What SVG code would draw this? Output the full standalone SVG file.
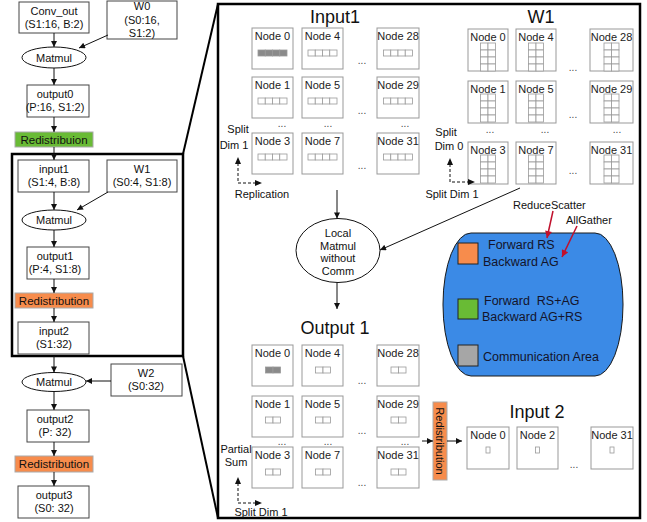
<svg xmlns="http://www.w3.org/2000/svg" xmlns:xlink="http://www.w3.org/1999/xlink" width="647" height="522" viewBox="0 0 647 522">
<style>
text{font-family:"Liberation Sans",Arial,sans-serif;fill:#111;}
.t11{font-size:11px;text-anchor:middle;}
.nl{font-size:11px;text-anchor:middle;fill:#222;}
.ttl{font-size:18px;text-anchor:middle;}
.lg{font-size:12.5px;fill:#14142a;white-space:pre;}
.box{fill:#fff;stroke:#444;stroke-width:1;}
.nbox{fill:#fff;stroke:#999;stroke-width:1;}
.cell{fill:#fff;stroke:#999;stroke-width:0.8;}
.cellf{fill:#8a8a8a;stroke:#999;stroke-width:0.8;}
.orange{fill:#f78c4c;stroke:#aaa;stroke-width:1;}
.green{fill:#69bb35;stroke:#aaa;stroke-width:1;}
.arr{stroke:#111;stroke-width:1;fill:none;marker-end:url(#ah);}
.dash{stroke:#111;stroke-width:1;fill:none;stroke-dasharray:3 2;}
.red{stroke:#c0102c;stroke-width:1.5;fill:none;marker-end:url(#rh);}
.dots{font-size:10px;text-anchor:middle;fill:#444;}
.frame{fill:none;stroke:#000;stroke-width:2.5;}
</style>
<defs>
<marker id="ah" viewBox="0 0 10 10" refX="10" refY="5" markerWidth="7" markerHeight="6" orient="auto" markerUnits="userSpaceOnUse"><path d="M0,0 L10,5 L0,10 z" fill="#111"/></marker>
<marker id="rh" viewBox="0 0 10 10" refX="10" refY="5" markerWidth="8" markerHeight="7" orient="auto" markerUnits="userSpaceOnUse"><path d="M0,0 L10,5 L0,10 z" fill="#c0102c"/></marker>
<g id="a4"><rect class="cell" x="0" y="0" width="7.25" height="6"/><rect class="cell" x="7.25" y="0" width="7.25" height="6"/><rect class="cell" x="14.5" y="0" width="7.25" height="6"/><rect class="cell" x="21.75" y="0" width="7.25" height="6"/></g>
<g id="a4f"><rect class="cellf" x="0" y="0" width="7.25" height="6"/><rect class="cellf" x="7.25" y="0" width="7.25" height="6"/><rect class="cellf" x="14.5" y="0" width="7.25" height="6"/><rect class="cellf" x="21.75" y="0" width="7.25" height="6"/></g>
<g id="g24"><rect class="cell" x="0" y="0" width="7.5" height="7"/><rect class="cell" x="7.5" y="0" width="7.5" height="7"/><rect class="cell" x="0" y="7" width="7.5" height="7"/><rect class="cell" x="7.5" y="7" width="7.5" height="7"/><rect class="cell" x="0" y="14" width="7.5" height="7"/><rect class="cell" x="7.5" y="14" width="7.5" height="7"/><rect class="cell" x="0" y="21" width="7.5" height="7"/><rect class="cell" x="7.5" y="21" width="7.5" height="7"/></g>
<g id="a2"><rect class="cell" x="0" y="0" width="7.5" height="6"/><rect class="cell" x="7.5" y="0" width="7.5" height="6"/></g>
<g id="a2f"><rect class="cellf" x="0" y="0" width="7.5" height="6"/><rect class="cellf" x="7.5" y="0" width="7.5" height="6"/></g>
<g id="a1"><rect class="cell" x="0" y="0" width="4" height="6"/></g>
</defs>
<rect width="647" height="522" fill="#fff"/>

<!-- frames -->
<g id="frames">
<rect class="frame" x="12" y="154" width="171" height="202"/>
<rect class="frame" x="218" y="4" width="422" height="514"/>
<line x1="183" y1="154" x2="218" y2="4" stroke="#000" stroke-width="2"/>
<line x1="183" y1="356" x2="218" y2="518" stroke="#000" stroke-width="2"/>
</g>

<!-- left column nodes -->
<g id="conv_out"><rect class="box" x="19" y="2" width="70" height="31"/><text class="t11" x="54" y="15">Conv_out</text><text class="t11" x="54" y="28">(S1:16, B:2)</text></g>
<g id="w0"><rect class="box" x="107" y="1" width="70" height="38"/><text class="t11" x="142" y="10">W0</text><text class="t11" x="142" y="24">(S0:16,</text><text class="t11" x="142" y="37">S1:2)</text></g>
<g id="matmul0"><ellipse cx="54" cy="57.5" rx="32" ry="10.5" fill="#fff" stroke="#111"/><text class="t11" x="54" y="61.5">Matmul</text></g>
<g id="output0"><rect class="box" x="27" y="85" width="62" height="32"/><text class="t11" x="55" y="98">output0</text><text class="t11" x="55" y="111">(P:16, S1:2)</text></g>
<g id="redist0"><rect class="green" x="15" y="132" width="78" height="15"/><text class="t11" x="54" y="143.5" style="font-size:11.5px">Redistribuion</text></g>
<g id="input1"><rect class="box" x="18" y="160" width="71" height="32"/><text class="t11" x="54" y="173">input1</text><text class="t11" x="54" y="186">(S1:4, B:8)</text></g>
<g id="w1"><rect class="box" x="107" y="160" width="70" height="32"/><text class="t11" x="142" y="173">W1</text><text class="t11" x="142" y="186">(S0:4, S1:8)</text></g>
<g id="matmul1"><ellipse cx="54" cy="220" rx="32" ry="10" fill="#fff" stroke="#111"/><text class="t11" x="54" y="224">Matmul</text></g>
<g id="output1"><rect class="box" x="27" y="247" width="62" height="32"/><text class="t11" x="55" y="260">output1</text><text class="t11" x="55" y="273">(P:4, S1:8)</text></g>
<g id="redist1"><rect class="orange" x="15" y="293" width="78" height="15"/><text class="t11" x="54" y="304.5" style="font-size:11.5px">Redistribution</text></g>
<g id="input2"><rect class="box" x="18" y="322" width="71" height="32"/><text class="t11" x="54" y="335">input2</text><text class="t11" x="54" y="348">(S1:32)</text></g>
<g id="matmul2"><ellipse cx="54" cy="382" rx="32" ry="9.5" fill="#fff" stroke="#111"/><text class="t11" x="54" y="386">Matmul</text></g>
<g id="w2"><rect class="box" x="111" y="364" width="71" height="32"/><text class="t11" x="146" y="377">W2</text><text class="t11" x="146" y="390">(S0:32)</text></g>
<g id="output2"><rect class="box" x="27" y="410" width="62" height="32"/><text class="t11" x="55" y="423">output2</text><text class="t11" x="55" y="436">(P: 32)</text></g>
<g id="redist2"><rect class="orange" x="15" y="456" width="78" height="16"/><text class="t11" x="54" y="468" style="font-size:11.5px">Redistribution</text></g>
<g id="output3"><rect class="box" x="18" y="486" width="71" height="32"/><text class="t11" x="54" y="499">output3</text><text class="t11" x="54" y="512">(S0: 32)</text></g>

<!-- Input1 grid -->
<g id="input1_grid">
<text class="ttl" x="335" y="23">Input1</text>
<rect class="nbox" x="252" y="28" width="41" height="41"/><text class="nl" x="272.5" y="40">Node 0</text><use xlink:href="#a4f" x="258" y="50"/>
<rect class="nbox" x="302" y="28" width="41" height="41"/><text class="nl" x="322.5" y="40">Node 4</text><use xlink:href="#a4" x="308" y="50"/>
<rect class="nbox" x="377" y="28" width="42" height="41"/><text class="nl" x="398" y="40">Node 28</text><use xlink:href="#a4" x="383.5" y="50"/>
<rect class="nbox" x="252" y="77" width="41" height="41"/><text class="nl" x="272.5" y="89">Node 1</text><use xlink:href="#a4" x="258" y="98"/>
<rect class="nbox" x="302" y="77" width="41" height="41"/><text class="nl" x="322.5" y="89">Node 5</text><use xlink:href="#a4" x="308" y="98"/>
<rect class="nbox" x="377" y="77" width="42" height="41"/><text class="nl" x="398" y="89">Node 29</text><use xlink:href="#a4" x="383.5" y="98"/>
<rect class="nbox" x="252" y="133" width="41" height="41"/><text class="nl" x="272.5" y="145">Node 3</text><use xlink:href="#a4" x="258" y="154"/>
<rect class="nbox" x="302" y="133" width="41" height="41"/><text class="nl" x="322.5" y="145">Node 7</text><use xlink:href="#a4" x="308" y="154"/>
<rect class="nbox" x="377" y="133" width="42" height="41"/><text class="nl" x="398" y="145">Node 31</text><use xlink:href="#a4" x="383.5" y="154"/>
<text class="dots" x="362" y="64">...</text><text class="dots" x="362" y="114">...</text><text class="dots" x="362" y="169">...</text>
<text class="dots" x="282" y="127">...</text><text class="dots" x="328" y="127">...</text><text class="dots" x="405" y="127">...</text>
<text class="t11" x="238" y="133">Split</text><text class="t11" x="234" y="149">Dim 1</text>
<text class="t11" x="262" y="198">Replication</text>
</g>

<!-- W1 grid -->
<g id="w1_grid">
<text class="ttl" x="541" y="23">W1</text>
<rect class="nbox" x="468" y="29" width="40" height="42"/><text class="nl" x="488" y="41">Node 0</text><use xlink:href="#g24" x="480.5" y="43"/>
<rect class="nbox" x="516" y="29" width="40" height="42"/><text class="nl" x="536" y="41">Node 4</text><use xlink:href="#g24" x="528.5" y="43"/>
<rect class="nbox" x="590" y="29" width="43" height="42"/><text class="nl" x="611.5" y="41">Node 28</text><use xlink:href="#g24" x="604" y="43"/>
<rect class="nbox" x="468" y="81" width="40" height="42"/><text class="nl" x="488" y="93">Node 1</text><use xlink:href="#g24" x="480.5" y="94"/>
<rect class="nbox" x="516" y="81" width="40" height="42"/><text class="nl" x="536" y="93">Node 5</text><use xlink:href="#g24" x="528.5" y="94"/>
<rect class="nbox" x="590" y="81" width="43" height="42"/><text class="nl" x="611.5" y="93">Node 29</text><use xlink:href="#g24" x="604" y="94"/>
<rect class="nbox" x="468" y="142" width="40" height="42"/><text class="nl" x="488" y="154">Node 3</text><use xlink:href="#g24" x="480.5" y="155"/>
<rect class="nbox" x="516" y="142" width="40" height="42"/><text class="nl" x="536" y="154">Node 7</text><use xlink:href="#g24" x="528.5" y="155"/>
<rect class="nbox" x="590" y="142" width="43" height="42"/><text class="nl" x="611.5" y="154">Node 31</text><use xlink:href="#g24" x="604" y="155"/>
<text class="dots" x="573" y="71">...</text><text class="dots" x="573" y="118">...</text><text class="dots" x="573" y="174">...</text>
<text class="dots" x="490" y="133">...</text><text class="dots" x="545" y="133">...</text><text class="dots" x="617" y="133">...</text>
<text class="t11" x="446" y="136">Split</text><text class="t11" x="449" y="150">Dim 0</text>
<text class="t11" x="452" y="198">Split Dim 1</text>
</g>

<!-- Local matmul -->
<g id="local_matmul">
<ellipse cx="338" cy="250.5" rx="42" ry="32" fill="#fff" stroke="#111"/>
<text class="t11" x="338" y="237">Local</text><text class="t11" x="338" y="249.5">Matmul</text><text class="t11" x="338" y="262">without</text><text class="t11" x="338" y="275">Comm</text>
</g>

<!-- Output1 grid -->
<g id="output1_grid">
<text class="ttl" x="335" y="334">Output 1</text>
<rect class="nbox" x="252" y="345" width="41" height="41"/><text class="nl" x="272.5" y="357">Node 0</text><use xlink:href="#a2f" x="265.5" y="367"/>
<rect class="nbox" x="302" y="345" width="41" height="41"/><text class="nl" x="322.5" y="357">Node 4</text><use xlink:href="#a2" x="315.5" y="367"/>
<rect class="nbox" x="377" y="345" width="42" height="41"/><text class="nl" x="398" y="357">Node 28</text><use xlink:href="#a2" x="391" y="367"/>
<rect class="nbox" x="252" y="396" width="41" height="41"/><text class="nl" x="272.5" y="408">Node 1</text><use xlink:href="#a2" x="265.5" y="417"/>
<rect class="nbox" x="302" y="396" width="41" height="41"/><text class="nl" x="322.5" y="408">Node 5</text><use xlink:href="#a2" x="315.5" y="417"/>
<rect class="nbox" x="377" y="396" width="42" height="41"/><text class="nl" x="398" y="408">Node 29</text><use xlink:href="#a2" x="391" y="417"/>
<rect class="nbox" x="252" y="447" width="41" height="41"/><text class="nl" x="272.5" y="459">Node 3</text><use xlink:href="#a2" x="265.5" y="469"/>
<rect class="nbox" x="302" y="447" width="41" height="41"/><text class="nl" x="322.5" y="459">Node 7</text><use xlink:href="#a2" x="315.5" y="469"/>
<rect class="nbox" x="377" y="447" width="42" height="41"/><text class="nl" x="398" y="459">Node 31</text><use xlink:href="#a2" x="391" y="469"/>
<text class="dots" x="362" y="384">...</text><text class="dots" x="362" y="434">...</text><text class="dots" x="362" y="486">...</text>
<text class="dots" x="282" y="445">...</text><text class="dots" x="328" y="445">...</text><text class="dots" x="405" y="445">...</text>
<text class="t11" x="236" y="453">Partial</text><text class="t11" x="236" y="466">Sum</text>
<text class="t11" x="261" y="516">Split Dim 1</text>
</g>

<!-- vertical Redistribution -->
<g id="redist_v">
<rect class="orange" x="433" y="402" width="14" height="78"/>
<text class="t11" x="440" y="441" transform="rotate(90 440 441)" dominant-baseline="central">Redistribution</text>
</g>

<!-- Input2 -->
<g id="input2_grid">
<text class="ttl" x="537" y="418">Input 2</text>
<rect class="nbox" x="467" y="427" width="42" height="42"/><text class="nl" x="488" y="439">Node 0</text><use xlink:href="#a1" x="486" y="447"/>
<rect class="nbox" x="517" y="427" width="41" height="42"/><text class="nl" x="537.5" y="439">Node 2</text><use xlink:href="#a1" x="535.5" y="447"/>
<rect class="nbox" x="591" y="427" width="42" height="42"/><text class="nl" x="612" y="439">Node 31</text><use xlink:href="#a1" x="610" y="447"/>
<text class="dots" x="574" y="468">...</text>
</g>

<!-- legend -->
<g id="legend">
<rect x="443" y="233" width="180" height="143" rx="28" ry="71" fill="#3b8ae6" stroke="#1a1a1a" stroke-width="1"/>
<rect x="458" y="243" width="20" height="21" fill="#f78c4c" stroke="#222"/>
<rect x="458" y="299" width="20" height="20" fill="#69bb35" stroke="#222"/>
<rect x="458" y="345" width="20" height="21" fill="#a6a6a6" stroke="#222"/>
<text class="lg" x="488" y="249">Forward RS</text>
<text class="lg" x="483" y="266">Backward AG</text>
<text class="lg" x="484" y="305">Forward  RS+AG</text>
<text class="lg" x="482" y="321">Backward AG+RS</text>
<text class="lg" x="483" y="361">Communication Area</text>
<text x="513" y="209" style="font-size:11px">ReduceScatter</text>
<text x="566" y="224" style="font-size:11px">AllGather</text>
</g>

<!-- connectors -->
<g id="connectors">
<line class="arr" x1="54" y1="33" x2="54" y2="47"/>
<line class="arr" x1="108" y1="35" x2="79" y2="48"/>
<line class="arr" x1="54" y1="68" x2="54" y2="85"/>
<line class="arr" x1="54" y1="117" x2="54" y2="132"/>
<line class="arr" x1="54" y1="147" x2="54" y2="160"/>
<line class="arr" x1="54" y1="192" x2="54" y2="210"/>
<line class="arr" x1="108" y1="192" x2="77" y2="210"/>
<line class="arr" x1="54" y1="230" x2="54" y2="247"/>
<line class="arr" x1="54" y1="279" x2="54" y2="293"/>
<line class="arr" x1="54" y1="308" x2="54" y2="322"/>
<line class="arr" x1="54" y1="356" x2="54" y2="372.5"/>
<line class="arr" x1="111" y1="381" x2="86" y2="381"/>
<line class="arr" x1="54" y1="391.5" x2="54" y2="410"/>
<line class="arr" x1="54" y1="442" x2="54" y2="456"/>
<line class="arr" x1="54" y1="472" x2="54" y2="486"/>
<line class="arr" x1="337" y1="190" x2="337" y2="218.5"/>
<line class="arr" x1="520" y1="188" x2="380" y2="250"/>
<line class="arr" x1="337" y1="282.5" x2="337" y2="309"/>
<line class="arr" x1="422" y1="441" x2="433" y2="441"/>
<line class="arr" x1="447" y1="441" x2="462" y2="441"/>
<path class="dash" d="M238,163 V183 H256"/>
<path d="M238,157 l-3,7 h6 z M262,183 l-7,-3 v6 z" fill="#111"/>
<path class="dash" d="M450,164 V182 H469"/>
<path d="M450,158 l-3,7 h6 z M475,182 l-7,-3 v6 z" fill="#111"/>
<path class="dash" d="M238,483 V503 H256"/>
<path d="M238,477 l-3,7 h6 z M262,503 l-7,-3 v6 z" fill="#111"/>
<line class="red" x1="553" y1="211" x2="547" y2="238"/>
<line class="red" x1="577" y1="226" x2="562" y2="257"/>
</g>
</svg>
